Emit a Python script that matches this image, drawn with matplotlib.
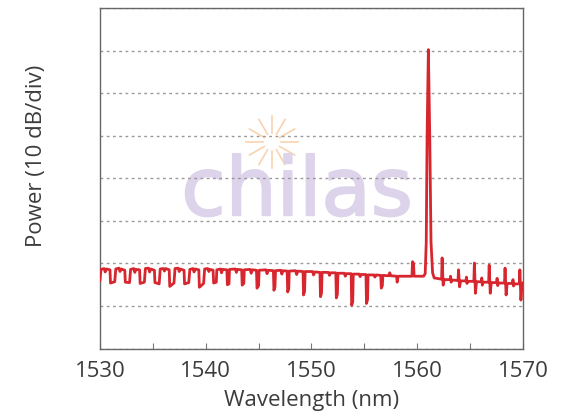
import numpy as np
import matplotlib
matplotlib.use('Agg')
import matplotlib.pyplot as plt
import matplotlib.patheffects as pe
from matplotlib.lines import Line2D

# spectrum (wavelength in nm, power in dB above an arbitrary floor)
wavelength = [
    1530.0,
    1530.1, 1530.4, 1530.5, 1530.6, 1530.95, 1531.0, 1531.4,
    1531.5, 1531.8, 1531.9, 1532.0, 1532.35, 1532.4, 1532.8,
    1532.9, 1533.2, 1533.3, 1533.4, 1533.75, 1533.8, 1534.2,
    1534.3, 1534.6, 1534.7, 1534.8, 1535.15, 1535.2, 1535.6,
    1535.7, 1536.0, 1536.1, 1536.2, 1536.55, 1536.6, 1537.0,
    1537.1, 1537.4, 1537.5, 1537.6, 1537.95, 1538.0, 1538.4,
    1538.5, 1538.8, 1538.9, 1539.0, 1539.35, 1539.4, 1539.8,
    1539.9, 1540.2, 1540.3, 1540.4, 1540.7, 1540.75, 1541.0,
    1541.05, 1541.4, 1541.5, 1541.6, 1542.0, 1542.05, 1542.2, 1542.25,
    1542.8, 1542.9, 1543.0, 1543.4, 1543.45, 1543.6, 1543.65,
    1544.2, 1544.3, 1544.4, 1544.8, 1544.85, 1545.0, 1545.05,
    1545.7, 1545.8, 1545.9, 1546.4, 1546.45, 1546.55, 1546.6,
    1547.1, 1547.2, 1547.3, 1547.7, 1547.75, 1547.85, 1547.9,
    1548.5, 1548.6, 1548.7, 1549.2, 1549.25, 1549.35, 1549.4,
    1550.1, 1550.2, 1550.3, 1550.8, 1550.85, 1550.95, 1551.0,
    1551.6, 1551.7, 1551.8, 1552.3, 1552.35, 1552.45, 1552.5,
    1553.1, 1553.2, 1553.3, 1553.75, 1553.8, 1553.9, 1553.95,
    1554.5, 1554.6, 1554.7, 1555.15, 1555.2, 1555.3, 1555.35,
    1555.9, 1556.0, 1556.1, 1556.55, 1556.6, 1556.7, 1556.75,
    1557.3, 1557.4, 1557.5, 1558.05, 1558.1, 1558.2,
    1558.9, 1559.5, 1559.55, 1559.65, 1559.7, 1560.6,
    1560.75, 1560.85, 1560.93, 1561.05, 1561.18, 1561.3, 1561.45,
    1561.6, 1562.3, 1562.35, 1562.45, 1562.55,
    1563.1, 1563.15, 1563.2, 1563.3,
    1563.85, 1563.9, 1564.0, 1564.1,
    1564.6, 1564.65, 1564.7, 1564.8,
    1565.35, 1565.4, 1565.5, 1565.6,
    1566.05, 1566.1, 1566.15, 1566.25,
    1566.75, 1566.8, 1566.9, 1567.0,
    1567.5, 1567.55, 1567.6, 1567.7,
    1568.25, 1568.3, 1568.4, 1568.5,
    1569.0, 1569.05, 1569.1, 1569.2,
    1569.65, 1569.7, 1569.8, 1569.9, 1570.0,
]
power = [
    16.0,
    18.6, 18.8, 18.0, 18.7, 18.5, 15.4, 15.7,
    18.7, 18.9, 18.1, 18.7, 18.4, 15.6, 15.5,
    18.6, 18.8, 17.9, 18.6, 18.5, 15.3, 15.6,
    18.8, 18.9, 18.0, 18.7, 18.4, 15.5, 15.2,
    18.7, 18.8, 18.2, 18.8, 18.5, 14.6, 15.4,
    18.8, 18.9, 18.1, 18.7, 18.4, 15.2, 15.5,
    18.6, 18.8, 18.0, 18.7, 18.5, 14.4, 15.3,
    18.7, 18.8, 18.1, 18.6, 18.4, 15.4, 15.6,
    18.5, 18.7, 17.8, 18.6, 18.5, 15.0, 15.2, 18.6,
    18.7, 17.9, 18.6, 18.5, 14.9, 15.3, 18.5,
    18.6, 17.7, 18.5, 18.4, 14.2, 14.8, 18.4,
    18.5, 17.6, 18.4, 18.3, 13.7, 14.5, 18.3,
    18.4, 17.5, 18.3, 18.2, 13.3, 14.0, 18.2,
    18.3, 17.4, 18.2, 18.1, 12.6, 13.5, 18.1,
    18.1, 17.3, 18.0, 17.9, 12.2, 13.0, 17.9,
    17.9, 17.2, 17.8, 17.8, 11.9, 12.8, 17.7,
    17.7, 17.0, 17.6, 17.6, 10.2, 11.0, 17.5,
    17.5, 16.9, 17.4, 17.4, 10.6, 11.5, 17.3,
    17.3, 16.8, 17.3, 17.2, 14.2, 14.8, 17.2,
    17.1, 17.8, 17.1, 17.0, 15.6, 17.0,
    17.0, 17.0, 20.4, 20.0, 17.0, 17.0,
    17.6, 25.0, 50.0, 70.2, 50.0, 25.0, 17.8,
    16.6, 16.3, 21.3, 14.9, 16.2,
    16.2, 17.0, 15.6, 16.1,
    16.0, 18.5, 14.5, 15.9,
    15.9, 16.8, 15.3, 15.8,
    15.8, 20.1, 13.0, 15.7,
    15.7, 16.6, 14.9, 15.6,
    15.6, 19.6, 13.0, 15.5,
    15.5, 16.5, 14.8, 15.4,
    15.4, 18.9, 12.6, 15.3,
    15.3, 16.2, 14.7, 15.2,
    15.2, 18.5, 11.4, 15.0, 15.4,
]

x_ticks = [1530, 1535, 1540, 1545, 1550, 1555, 1560, 1565, 1570]
x_labels = ['1530', '', '1540', '', '1550', '', '1560', '', '1570']
grid_levels = [0, 10, 20, 30, 40, 50, 60, 70, 80]

plt.rcParams['font.family'] = ['Open Sans', 'DejaVu Sans']

fig = plt.figure(figsize=(5.71, 4.17), dpi=100)
ax = fig.add_axes([0.175, 0.164, 0.741, 0.817])
ax.set_zorder(2)
ax.patch.set_alpha(0)

# watermark logo, sits under the grid
wm = fig.text(0.52, 0.484, 'chilas', fontsize=58, color='#ddd3ea',
              ha='center', va='baseline', family='DejaVu Sans', zorder=0)
wm.set_path_effects([pe.withStroke(linewidth=1.5, foreground='#ddd3ea')])
cx, cy = 272 / 571, 1 - 142 / 417
for ang in np.arange(0, 360, 30):
    a = np.deg2rad(ang)
    fig.add_artist(Line2D([cx + 9 * np.cos(a) / 571, cx + 26 * np.cos(a) / 571],
                          [cy + 9 * np.sin(a) / 417, cy + 26 * np.sin(a) / 417],
                          color='#f9d3b0', lw=1.2, zorder=0))

ax.plot(wavelength, power, color='#d7262e', lw=2.0, zorder=3)

ax.set_xlim(1530, 1570)
ax.set_ylim(0, 80)
ax.set_xticks(x_ticks)
ax.set_xticklabels(x_labels)
ax.set_yticks(grid_levels)
ax.set_yticklabels([])
ax.tick_params(axis='y', length=0)
ax.tick_params(axis='x', direction='in', length=4, width=0.8, color='#777',
               labelsize=16, labelcolor='#3c3c3c', pad=9)
ax.grid(axis='y', color='#999', lw=1, linestyle=(0, (2, 2.5)))
for s in ax.spines.values():
    s.set_color('#666')
    s.set_linewidth(1)

ax.set_xlabel('Wavelength (nm)', fontsize=16, color='#3c3c3c', labelpad=6)
ax.set_ylabel('Power (10 dB/div)', fontsize=16, color='#3c3c3c')
ax.yaxis.set_label_coords(-0.125, 0.565)

fig.savefig('out.png', dpi=100)
